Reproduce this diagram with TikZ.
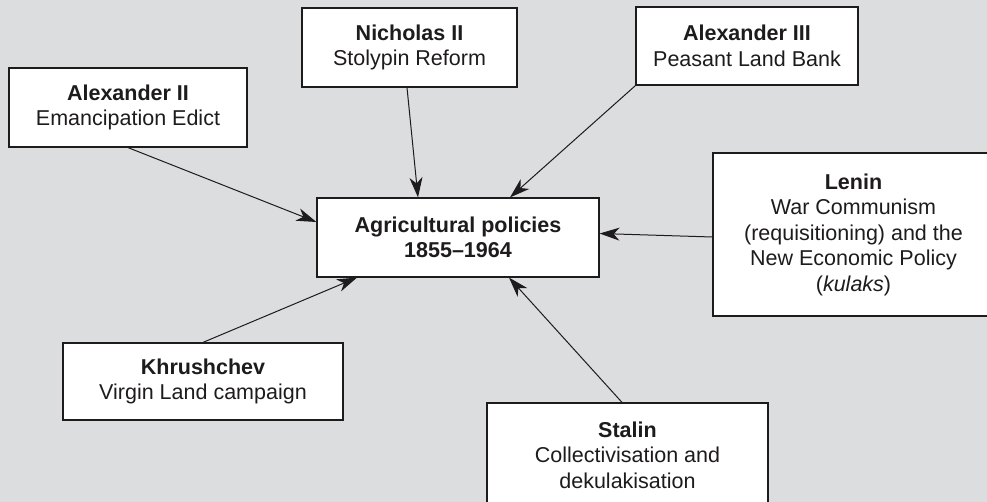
\documentclass[tikz,border=0pt]{standalone}
\usepackage{fontspec}
\setmainfont{Liberation Sans}
\usetikzlibrary{arrows.meta,calc}
\definecolor{bgc}{RGB}{220,221,223}
\definecolor{ink}{RGB}{30,27,28}
\begin{document}
\begin{tikzpicture}[x=1pt,y=-1pt,
  box/.style={draw=ink,fill=white,line width=1.2pt,align=center,inner sep=0pt,
    font=\fontsize{21.5}{25.5}\selectfont,text=ink},
  arr/.style={draw=ink,line width=1pt,-{Stealth[length=20pt,width=13pt,inset=6pt]}}]
\useasboundingbox (0,0) rectangle (987,502);
\clip (0,0) rectangle (987,502);
\fill[bgc] (0,0) rectangle (987,502);
\node[box,minimum width=282,minimum height=79] (c) at (458,237.5)
  {\textbf{Agricultural policies}\\\textbf{1855–1964}};
\node[box,minimum width=238,minimum height=79] (a2) at (128,107.5)
  {\textbf{Alexander II}\\Emancipation Edict};
\node[box,minimum width=215,minimum height=79] (n2) at (409.5,47.5)
  {\textbf{Nicholas II}\\Stolypin Reform};
\node[box,minimum width=222,minimum height=78] (a3) at (747,46)
  {\textbf{Alexander III}\\Peasant Land Bank};
\node[box,minimum width=281,minimum height=163] (le) at (853.5,234.5)
  {\textbf{Lenin}\\War Communism\\(requisitioning) and the\\New Economic Policy\\(\textit{kulaks})};
\node[box,minimum width=280,minimum height=77] (kh) at (203,381.5)
  {\textbf{Khrushchev}\\Virgin Land campaign};
\node[box,minimum width=281,minimum height=104] (st) at (627.5,455)
  {\textbf{Stalin}\\Collectivisation and\\dekulakisation};
\draw[arr] (a2.south) -- ($(c.west)+(0,-15.5)$);
\draw[arr] ($(n2.south)+(-2.5,0)$) -- ($(c.north)+(-40,0)$);
\draw[arr] (a3.south west) -- ($(c.north)+(52,0)$);
\draw[arr] ($(le.west)+(0,2.5)$) -- ($(c.east)+(0,-4)$);
\draw[arr] ($(st.north)+(-5.5,0)$) -- ($(c.south)+(51,0)$);
\draw[arr] (kh.north) -- ($(c.south)+(-101,0)$);
\end{tikzpicture}
\end{document}
